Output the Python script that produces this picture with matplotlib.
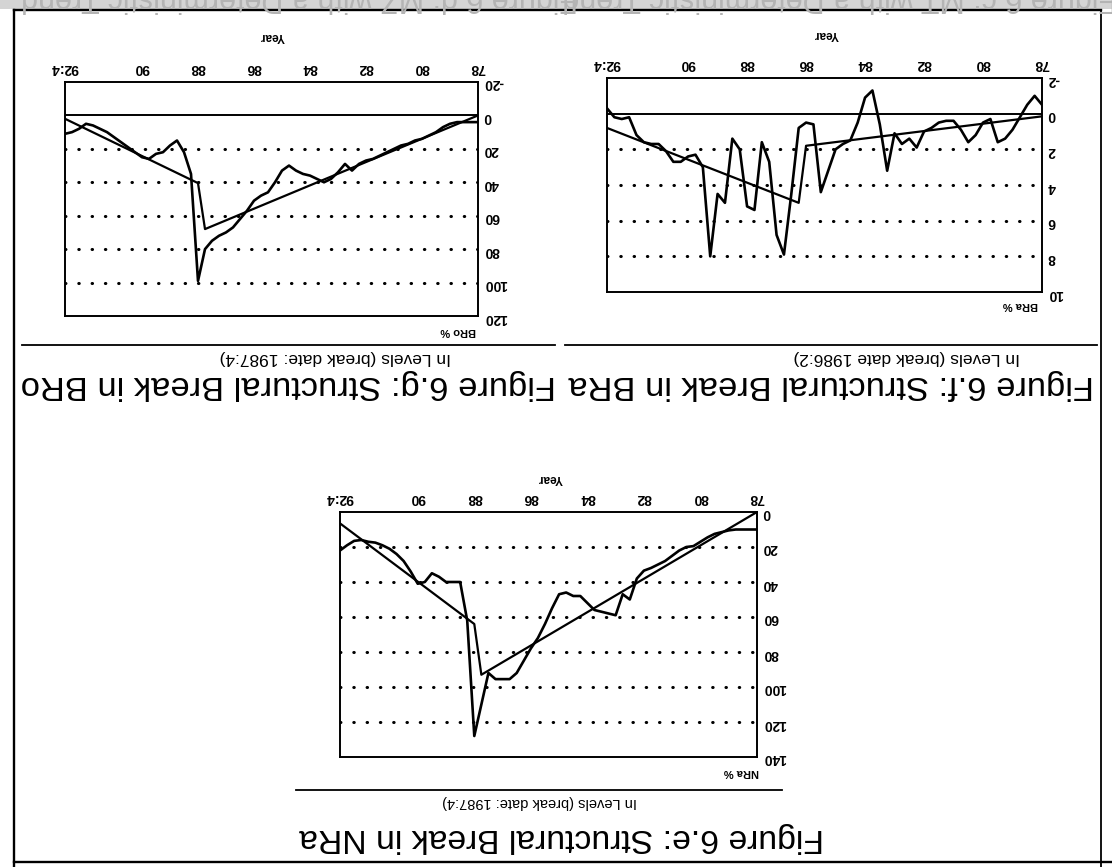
import matplotlib
matplotlib.use("Agg")
import matplotlib.pyplot as plt
from matplotlib.lines import Line2D
from matplotlib.patches import Rectangle

W, H = 1112, 867

# Quarterly dates 78:1 ... 92:4
quarters = [yr + q / 4 for yr in range(78, 93) for q in range(4)]

xtick_pos = [78, 80, 82, 84, 86, 88, 90, 92.75]
xtick_lab = ["78", "80", "82", "84", "86", "88", "90", "92:4"]

# NRa %
nra = [10, 10, 10, 10, 10.5, 11.5, 12.5, 14.5,
       17, 19.5, 20, 22, 25, 28, 30, 32,
       33.5, 38, 50, 47, 59, 58, 57, 56,
       52, 48, 48, 46, 47, 55, 64, 72,
       78, 85, 92, 95.5, 95.5, 95.5, 92, 110,
       128, 62, 40, 40, 40, 37, 35, 40,
       41, 34, 28, 24, 21, 19, 17.5, 17,
       16, 16.5, 19, 22]
nra_trend_x = [78.0, 87.75, 88.0, 92.75]
nra_trend_y = [0.0, 93.0, 64.0, 6.5]

# BRa %
bra = [-0.5, -1.0, -0.5, 0.2, 0.9, 1.4, 1.6, 0.3,
       0.5, 1.2, 1.6, 0.9, 0.4, 0.4, 0.5, 0.8,
       1.0, 1.9, 1.4, 1.7, 1.1, 3.2, 0.6, -1.3,
       -0.9, 0.5, 1.5, 1.7, 2.0, 3.2, 4.4, 0.6,
       0.5, 0.8, 4.5, 7.9, 6.8, 2.7, 1.6, 5.4,
       5.2, 2.0, 1.4, 5.0, 4.5, 8.0, 3.0, 2.3,
       2.4, 2.7, 2.7, 2.1, 1.7, 1.7, 1.6, 1.2,
       0.2, 0.3, 0.2, -0.3]
bra_trend_x = [78.0, 86.0, 86.25, 92.75]
bra_trend_y = [0.15, 1.8, 5.0, 0.8]

# BRo %
bro = [4, 4, 4, 4, 5, 7, 10, 12,
       14, 15, 17, 18, 20, 22, 24, 26,
       27, 29, 33, 29, 34, 38, 40, 38,
       36, 35, 33, 30, 33, 40, 46, 48,
       51, 57, 62, 67, 70, 72, 75, 80,
       99, 35, 22, 15, 18, 22, 23, 26,
       25, 22, 19, 16, 13, 10, 8, 6,
       5, 8, 10, 11]
bro_trend_x = [78.0, 87.75, 88.0, 92.75]
bro_trend_y = [0.0, 68.0, 40.5, 2.0]

FAMILY = "Liberation Sans"
TICK_FONT = dict(family=FAMILY, weight="bold", size=10)

fig = plt.figure(figsize=(W / 100, H / 100), dpi=100)
fig.patch.set_facecolor("white")


def fx(px):
    return px / W


def fy(py):
    return 1 - py / H


def ftext(px, py, s, **kw):
    kw.setdefault("rotation", 180)
    kw.setdefault("ha", "center")
    kw.setdefault("va", "center")
    kw.setdefault("family", FAMILY)
    fig.text(fx(px), fy(py), s, **kw)


def fline(x0, y0, x1, y1, lw=1.3, color="black"):
    fig.add_artist(Line2D([fx(x0), fx(x1)], [fy(y0), fy(y1)],
                          transform=fig.transFigure, color=color, lw=lw))


def panel(box, ymin, ymax, yticks, grid_vals, actual, tx, ty, zero_line):
    x0, y0, x1, y1 = box
    ax = fig.add_axes([fx(x0), fy(y1), (x1 - x0) / W, (y1 - y0) / H])
    ax.set_xlim(92.75, 78)
    ax.set_ylim(ymax, ymin)
    ax.set_facecolor("none")
    for sp in ax.spines.values():
        sp.set_linewidth(1.4)
    ax.xaxis.tick_top()
    ax.yaxis.tick_right()
    ax.set_xticks(xtick_pos)
    ax.set_xticklabels(xtick_lab, fontdict=TICK_FONT)
    ax.set_yticks(yticks)
    ax.set_yticklabels([f"{v:g}" for v in yticks], fontdict=TICK_FONT)
    ax.tick_params(axis="x", length=0, pad=5, labelrotation=180)
    ax.tick_params(axis="y", length=0, pad=4, labelrotation=180)
    for v in grid_vals:
        ax.axhline(v, color="black", lw=2.2, ls=(0, (0.15, 4.2)),
                   dash_capstyle="round")
    if zero_line:
        ax.axhline(0, color="black", lw=1.4)
    ax.plot(tx, ty, color="black", lw=1.6)
    ax.plot(quarters, actual, color="black", lw=1.9, solid_joinstyle="round")
    return ax


# BRo panel
panel((65, 82, 478, 316), -20, 120, list(range(-20, 121, 20)),
      [20, 40, 60, 80, 100], bro, bro_trend_x, bro_trend_y, True)
ftext(272, 36, "Year", weight="bold", size=8.5)
ftext(458, 331, "BRo %", weight="bold", size=8)

# BRa panel
panel((607, 78, 1042, 292), -2, 10, list(range(-2, 11, 2)),
      [2, 4, 6, 8], bra, bra_trend_x, bra_trend_y, True)
ftext(826, 34, "Year", weight="bold", size=8.5)
ftext(1020, 305, "BRa %", weight="bold", size=8)

# NRa panel
panel((340, 512, 757, 757), 0, 140, list(range(0, 141, 20)),
      [20, 40, 60, 80, 100, 120], nra, nra_trend_x, nra_trend_y, False)
ftext(550, 478, "Year", weight="bold", size=8.5)
ftext(741, 772, "NRa %", weight="bold", size=8)

# Headings
ftext(335, 357, "In Levels (break date: 1987:4)", size=12.5)
ftext(907, 357, "In Levels (break date 1986:2)", size=12.5)
ftext(288, 384, "Figure 6.g: Structural Break in BRo", size=24.8)
ftext(831, 384, "Figure 6.f: Structural Break in BRa", size=24.8)
ftext(540, 802, "In Levels (break date: 1987:4)", size=10.5)
ftext(562, 838, "Figure 6.e: Structural Break in NRa", size=24.3)

# Rules under the headings
fline(22, 345, 555, 345, lw=1.3)
fline(565, 345, 1097, 345, lw=1.3)
fline(296, 790, 782, 790, lw=1.3)

# Page frame, with the grey edge of the facing page along the top
fig.add_artist(Rectangle((0, fy(9)), 1, 1 - fy(9), transform=fig.transFigure,
                         facecolor="#d4d4d4", edgecolor="none", zorder=0))
ftext(300, -2, "Figure 6.d: MZ with a Deterministic Trend",
      size=22, color="#b4b4b4")
ftext(840, -2, "Figure 6.c: MT with a Deterministic Trend",
      size=22, color="#b4b4b4")
fline(14, 10, 1101, 10, lw=1.7)
fline(14, 10, 14, 867, lw=1.7)
fline(1101, 10, 1101, 867, lw=1.3)
fline(14, 862, 1112, 862, lw=1.7)

fig.savefig("out.png", dpi=100)
